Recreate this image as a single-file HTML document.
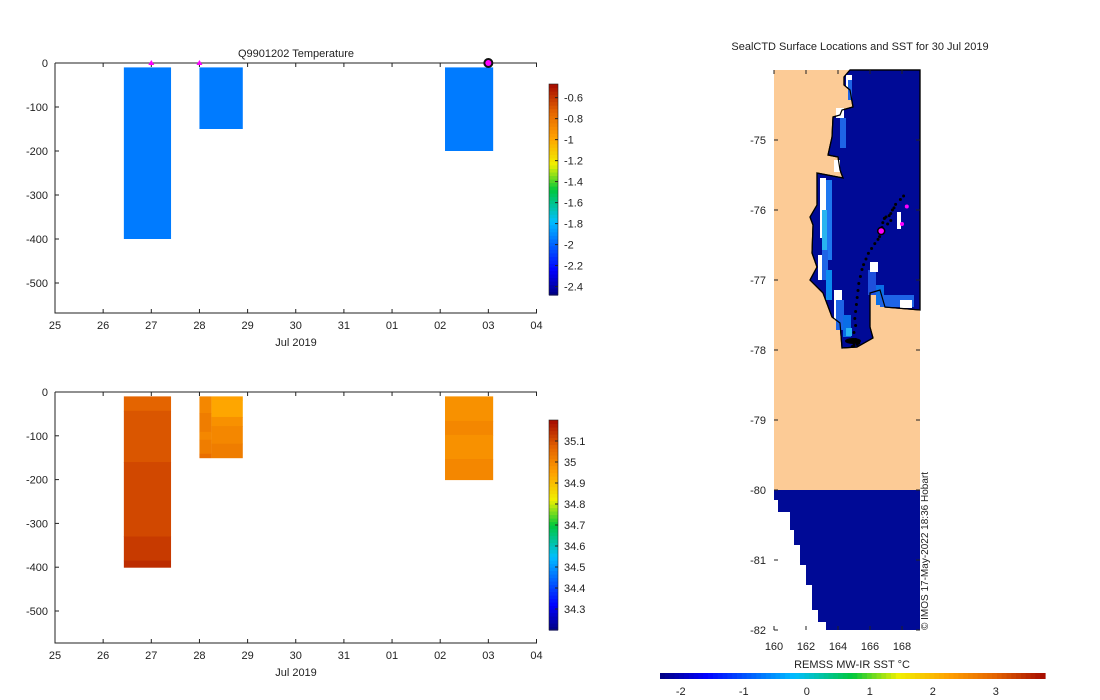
<!DOCTYPE html>
<html><head><meta charset="utf-8"><style>
body{margin:0;background:#fff}
svg{display:block;font-family:"Liberation Sans","DejaVu Sans",sans-serif;font-size:11px}
</style></head><body>
<svg id="s" width="1100" height="700" xmlns="http://www.w3.org/2000/svg"></svg>
<script>
// ---- data ----
const dayTicks = ["25","26","27","28","29","30","31","01","02","03","04"];
const depthTicks = [0,-100,-200,-300,-400,-500];
const profileStart = [1.43, 3.0, 8.1];   // day offset from 25 Jul
const profileWidth = [0.98, 0.9, 1.0];
const profileMaxDepth = [400, 150, 200];
const tempValues = [-1.94, -1.94, -1.94];
const markerDays = [2, 3];
const latestDay = 9;
const tempCbTicks = [-0.6,-0.8,-1,-1.2,-1.4,-1.6,-1.8,-2,-2.2,-2.4];
const salCbTicks = [35.1,35,34.9,34.8,34.7,34.6,34.5,34.4,34.3];
// salinity segments: [profile, col(0 full/1 left/2 right), topDepth, bottomDepth, value]
const salSegs = [
 [0,0,10,43,35.07],[0,0,43,160,35.09],[0,0,160,330,35.11],[0,0,330,385,35.13],[0,0,385,400,35.15],
 [1,1,10,48,35.0],[1,1,48,91,35.02],[1,1,91,109,35.0],[1,1,109,141,35.02],[1,1,141,150,35.05],
 [1,2,10,18,34.95],[1,2,18,57,34.94],[1,2,57,78,34.98],[1,2,78,118,35.0],[1,2,118,150,35.02],
 [2,0,10,66,34.98],[2,0,66,98,35.0],[2,0,98,153,34.98],[2,0,153,200,35.0]
];
const lonTicks=[160,162,164,166,168];
const latTicks=[-75,-76,-77,-78,-79,-80,-81,-82];
const sstTicks=[-2,-1,0,1,2,3];
const trackLon=[164.9,165.0,165.2,165.3,165.1,165.0,165.1,165.05,165.1,165.15,165.2,165.25,165.3,165.4,165.5,165.6,165.75,165.9,166.1,166.3,166.5,166.6,166.7,166.75,166.8,166.9,167.0,167.2,167.3,167.4,167.5,167.3,167.1,166.9,167.6,167.9,168.1];
const trackLat=[-77.95,-77.93,-77.92,-77.9,-77.85,-77.75,-77.65,-77.55,-77.45,-77.35,-77.25,-77.15,-77.05,-76.95,-76.85,-76.78,-76.7,-76.62,-76.55,-76.48,-76.42,-76.38,-76.33,-76.25,-76.18,-76.12,-76.1,-76.08,-76.05,-76.0,-75.97,-76.15,-76.2,-76.12,-75.92,-75.85,-75.8];
const dotLon=[166.7,168.3,168.0];
const dotLat=[-76.3,-75.95,-76.2];

// ---- helpers ----
const S=document.getElementById('s');const NS="http://www.w3.org/2000/svg";
function mk(t,a,parent){const e=document.createElementNS(NS,t);for(const k in a)e.setAttribute(k,a[k]);(parent||S).appendChild(e);return e;}
function txt(x,y,s,anchor,name){const e=mk('text',{x:x,y:y,'text-anchor':anchor||'middle',fill:'#222'});e.textContent=s;return e;}
const stops=[[0,[0,0,128]],[0.12,[0,0,255]],[0.35,[0,190,255]],[0.5,[0,200,60]],[0.62,[240,240,0]],[0.75,[255,160,0]],[0.87,[228,100,0]],[1,[165,10,0]]];
function cmap(t){t=Math.max(0,Math.min(1,t));for(let i=1;i<stops.length;i++){if(t<=stops[i][0]){const a=stops[i-1],b=stops[i];const f=(t-a[0])/(b[0]-a[0]);const c=a[1].map((v,j)=>Math.round(v+(b[1][j]-v)*f));return `rgb(${c})`;}}return 'rgb(165,10,0)';}
const X=d=>55+d*48.15;
function colorbar(x,y0,y1,vmin,vmax,ticks,name){
  const g=mk('g',{});
  const n=60;for(let i=0;i<n;i++){const yy=y1-(i+1)*(y1-y0)/n;mk('rect',{x:x,y:yy,width:9,height:(y1-y0)/n+0.6,fill:cmap((i+0.5)/n)},g);}
  mk('rect',{x:x,y:y0,width:9,height:y1-y0,fill:'none',stroke:'#222','stroke-width':0.6},g);
  ticks.forEach(v=>{const yy=y1-(v-vmin)/(vmax-vmin)*(y1-y0);mk('line',{x1:x+9,x2:x+6,y1:yy,y2:yy,stroke:'#222'},g);txt(x+15,yy+4,String(v),'start','colorbar-tick');});
}
function axes(top,bottom,ypx,name){
  const Y=d=>top+d*ypx;
  const g=mk('g',{});
  mk('path',{d:`M55 ${top}H537M55 ${top}V${bottom}H537`,stroke:'#222',fill:'none','stroke-width':1},g);
  dayTicks.forEach((l,i)=>{const x=X(i);mk('line',{x1:x,x2:x,y1:bottom,y2:bottom-4,stroke:'#222'},g);mk('line',{x1:x,x2:x,y1:top,y2:top+4,stroke:'#222'},g);txt(x,bottom+16,l,'middle','x-tick-label');});
  depthTicks.forEach(v=>{const y=Y(-v);mk('line',{x1:55,x2:59,y1:y,y2:y,stroke:'#222'},g);txt(48,y+4,String(v),'end','y-tick-label');});
  txt(296,bottom+33,'Jul 2019','middle','x-axis-title');
  return Y;
}
// ---- temperature panel ----
txt(296,57,'Q9901202  Temperature','middle','temperature-title');
const Yt=d=>63+d*0.44;
profileStart.forEach((d,i)=>{const r=mk('rect',{x:X(d),y:Yt(10),width:profileWidth[i]*48.15,height:Yt(profileMaxDepth[i])-Yt(10),fill:cmap((tempValues[i]+2.48)/2.01)});

});
axes(63,313,0.44,'temperature-axes');
markerDays.forEach(d=>{const p=mk('path',{d:`M${X(d)-3} ${65}L${X(d)} ${60}L${X(d)+3} ${65}Z`,fill:'#ff00ff'});

});
const lm=mk('circle',{cx:X(latestDay),cy:63,r:4,fill:'#ff00ff',stroke:'#111','stroke-width':2});


colorbar(549,84,295,-2.48,-0.47,tempCbTicks,'temperature-colorbar');
// ---- salinity panel ----
const Ys=d=>392+d*0.438;
salSegs.forEach(s=>{const d=profileStart[s[0]],w=profileWidth[s[0]];let x0=X(d),x1=X(d+w);
 if(s[1]===1)x1=x0+12;if(s[1]===2)x0=x0+12;
 const r=mk('rect',{x:x0,y:Ys(s[2]),width:x1-x0,height:Ys(s[3])-Ys(s[2])+0.5,fill:cmap((s[4]-34.2)/1.0)});
 
 });
axes(392,643,0.438,'salinity-axes');
colorbar(549,420,630,34.2,35.2,salCbTicks,'salinity-colorbar');
// ---- map ----
txt(860,50,'SealCTD Surface Locations and SST for 30 Jul 2019','middle','map-title');
const LX=l=>774+(l-160)*16, LY=l=>70+(-74-l)*70;
const mg=mk('g',{});
mk('rect',{x:774,y:70,width:146,height:420,fill:'#fccb96'},mg);
const coast="850,70 844,77 844,85 850,90 853,107 842,110 840,115 833,117 832,137 828,155 838,157 840,170 843,178 817,173 817,205 810,217 813,225 812,253 817,267 810,280 823,293 832,317 840,323 842,348 857,347 873,338 870,327 870,293 880,290 885,307 920,310 920,70";
mk('polygon',{points:coast,fill:'#000a96',stroke:'#000','stroke-width':1.2},mg);
// coastal cells
[[846,75,6,12,'#fff'],[848,80,4,20,'#1e64e6'],[836,108,8,10,'#fff'],[840,118,6,30,'#1e64e6'],[834,160,6,12,'#fff'],[820,178,6,60,'#fff'],[826,180,6,80,'#1e78f0'],[822,210,5,50,'#28b4f0'],[818,255,6,25,'#fff'],[822,250,6,30,'#1e64e6'],[826,270,6,30,'#0a8cf0'],[834,290,8,30,'#fff'],[836,300,8,30,'#1e64e6'],[843,315,8,22,'#0a6ee6'],[846,328,6,8,'#28b4f0'],[868,270,8,25,'#1e50dc'],[876,285,8,20,'#0a6ee6'],[880,295,34,12,'#1e64e6'],[900,300,12,8,'#fff'],[870,262,8,10,'#fff']].forEach(c=>mk('rect',{x:c[0],y:c[1],width:c[2],height:c[3],fill:c[4]},mg));
mk('polygon',{points:coast,fill:'none',stroke:'#000','stroke-width':1.2},mg);
mk('rect',{x:897,y:212,width:4,height:17,fill:'#fff'},mg);
// southern block
mk('rect',{x:774,y:490,width:146,height:140,fill:'#000a96'},mg);
[[500,512,778],[512,530,790],[530,545,794],[545,565,800],[565,585,806],[585,610,812],[610,622,818],[622,630,826]].forEach(r=>mk('rect',{x:774,y:r[0],width:r[2]-774,height:r[1]-r[0],fill:'#fff'},mg));
trackLon.forEach((l,i)=>{const c=mk('circle',{cx:LX(l),cy:LY(trackLat[i]),r:1.5,fill:'#000'});

});
mk('ellipse',{cx:853,cy:341,rx:8,ry:3,fill:'#000'},mg);
dotLon.forEach((l,i)=>{const c=mk('circle',{cx:LX(l),cy:LY(dotLat[i]),r:i===0?3.5:2,fill:'#ff00ff',stroke:i===0?'#000':'none','stroke-width':1.5});

});
lonTicks.forEach(l=>{const x=LX(l);mk('line',{x1:x,x2:x,y1:70,y2:74,stroke:'#222'});mk('line',{x1:x,x2:x,y1:630,y2:626,stroke:'#222'});txt(x,650,String(l),'middle','lon-tick-label');});
latTicks.forEach(l=>{const y=LY(l);mk('line',{x1:774,x2:778,y1:y,y2:y,stroke:'#222'});mk('line',{x1:920,x2:916,y1:y,y2:y,stroke:'#222'});txt(766,y+4,String(l),'end','lat-tick-label');});
const cr=txt(0,0,'© IMOS 17-May-2022 18:36 Hobart','start','credit-text');cr.setAttribute('transform','translate(928,630) rotate(-90)');cr.setAttribute('font-size','10');
// SST colorbar
const cg=mk('g',{});
for(let i=0;i<80;i++){mk('rect',{x:660+i*385/80,y:673,width:385/80+0.6,height:6,fill:cmap((i+0.5)/80)},cg);}
sstTicks.forEach(v=>{const x=660+(v+2.33)*63;txt(x,695,String(v),'middle','sst-tick-label');});
txt(852,668,'REMSS MW-IR SST °C','middle','sst-colorbar-title');
</script>
</body></html>
